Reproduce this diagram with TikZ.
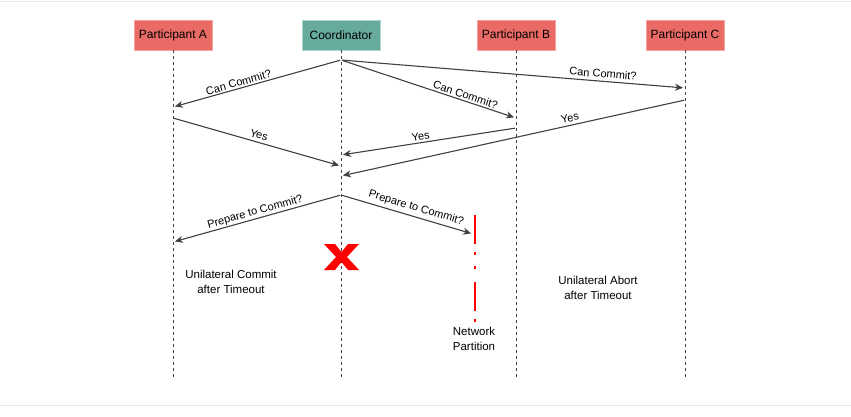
\documentclass[tikz,border=0pt]{standalone}
\usepackage{fontspec}
\setmainfont{Liberation Sans}
\usetikzlibrary{arrows.meta}
\definecolor{partred}{HTML}{EA6B66}
\definecolor{partline}{HTML}{F5A3A0}
\definecolor{coordgreen}{HTML}{67AB9F}
\definecolor{coordline}{HTML}{A8D5CC}
\definecolor{msggray}{HTML}{404040}
\definecolor{framegray}{HTML}{E6E6E6}
\begin{document}
\begin{tikzpicture}[x=1pt, y=-1pt, >={Stealth[length=8pt,width=7pt,inset=2.5pt]},
    head/.style={draw=partline, fill=partred, minimum width=78pt, minimum height=30pt, inner sep=0pt, font=\fontsize{12}{14}\selectfont},
    msg/.style={->, draw=msggray, line width=1.1pt, shorten >=2pt, shorten <=1pt},
    lbl/.style={sloped, above, inner sep=1.5pt, font=\fontsize{11}{13}\selectfont},
    note/.style={align=center, font=\fontsize{11.5}{14.5}\selectfont}]

    \useasboundingbox (0,0) rectangle (851,416);
    \draw [framegray, line width=1.2pt] (0,1.5)--(851,1.5);
    \draw [framegray, line width=1pt] (0,405)--(851,405);

    % heads
    \node[head] (A) at (173,35) {Participant A};
    \node[head, fill=coordgreen, draw=coordline] (Co) at (341,35) {Coordinator};
    \node[head] (B) at (516,35) {Participant B};
    \node[head] (C) at (685,35) {Participant C};

    \foreach \n/\x in {A/173,Co/341,B/516,C/685}
    {
      \coordinate (\n end) at (\x,380);
      \draw [msggray, line width=1pt, dash pattern=on 3pt off 3pt] (\n.south)--(\n end);
    }

    % points on the lifelines
    \coordinate (co1) at (341,60); \coordinate (co2) at (341,166); \coordinate (co3) at (341,155);
    \coordinate (co4) at (341,176); \coordinate (co5) at (341,195);
    \coordinate (a1) at (173,107); \coordinate (a2) at (173,118); \coordinate (a3) at (173,242);
    \coordinate (b1) at (516,118); \coordinate (b2) at (516,128);
    \coordinate (c1) at (685,88); \coordinate (c2) at (685,100);
    \coordinate (p1) at (473,234);

    \draw[msg] (co1)--(a1) node[lbl, pos=.6]{Can Commit?};
    \draw[msg] (co1)--(b1) node[lbl, pos=.7]{Can Commit?};
    \draw[msg] (co1)--(c1) node[lbl, pos=.76, inner sep=3pt]{Can Commit?};

    \draw[msg] (a2)--(co2) node[lbl, pos=.5, inner sep=3pt]{Yes};
    \draw[msg] (b2)--(co3) node[lbl, pos=.54]{Yes};
    \draw[msg] (c2)--(co4) node[lbl, pos=.33, inner sep=3pt]{Yes};

    \draw[msg] (co5)--(a3) node[lbl, pos=.5, inner sep=1pt]{Prepare to Commit?};
    \draw[msg] (co5)--(p1) node[lbl, pos=.55, inner sep=3pt]{Prepare to Commit?};

    % failed coordinator
    \fill [red] (324,244)--(335,244)--(341.5,252)--(348,244)--(359,244)--(347,257)--(359,270)
      --(348,270)--(341.5,262)--(335,270)--(324,270)--(336,257)--cycle;

    % network partition
    \coordinate (np1) at (475,215); \coordinate (np2) at (475,323);
    \draw [red, line width=2.5pt, dash pattern=on 29pt off 8pt on 3pt off 11pt on 3pt off 13pt] (np1)--(np2);
    \node[note] (net) at (474,339) {Network\\Partition};

    \node[note] (uc) at (231,282) {Unilateral Commit\\after Timeout};
    \node[note] (ua) at (598,288) {Unilateral Abort\\after Timeout};

\end{tikzpicture}
\end{document}
